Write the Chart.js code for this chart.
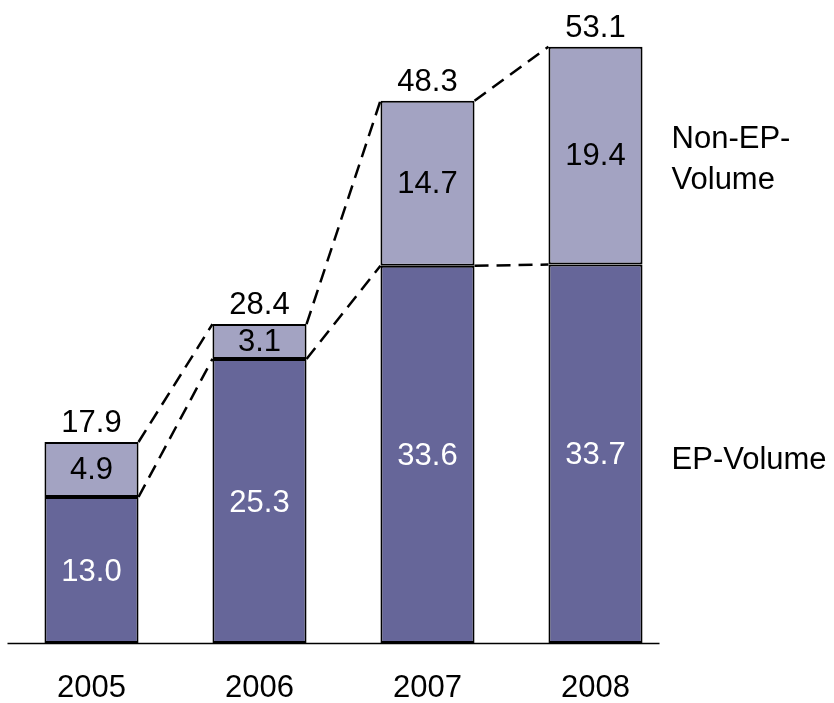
<!DOCTYPE html>
<html>
<head>
<meta charset="utf-8">
<script src="https://cdn.jsdelivr.net/npm/chart.js@4"></script>
<style>
  body { margin: 0; background: #fff; }
  #wrap { width: 834px; height: 703px; }
</style>
</head>
<body>
<div id="wrap"><canvas id="volChart"></canvas></div>
<script>
const years = ["2005", "2006", "2007", "2008"]
const epVolume = [13.0, 25.3, 33.6, 33.7]
const nonEpVolume = [4.9, 3.1, 14.7, 19.4]
const totals = [17.9, 28.4, 48.3, 53.1]
const seriesNames = ["EP-Volume", ["Non-EP-", "Volume"]]

const FONT = '31px "Liberation Sans", Arial, sans-serif'

// dashed connectors, value labels, axis line and series names on the right
const decorPlugin = {
    id: 'decor',
    afterDatasetsDraw(chart) {
        const ctx = chart.ctx
        const ep = chart.getDatasetMeta(0).data
        const non = chart.getDatasetMeta(1).data
        const area = chart.chartArea
        ctx.save()

        // baseline
        ctx.strokeStyle = '#000'
        ctx.lineWidth = 1.5
        ctx.beginPath()
        ctx.moveTo(area.left, area.bottom + 0.5)
        ctx.lineTo(area.right - 20, area.bottom + 0.5)
        ctx.stroke()

        // dashed connectors
        ctx.setLineDash([14, 8])
        ctx.lineWidth = 2.5
        for (let i = 0; i < ep.length - 1; i++) {
            [ep, non].forEach(set => {
                const a = set[i], b = set[i + 1]
                ctx.beginPath()
                ctx.moveTo(a.x + a.width / 2, a.y)
                ctx.lineTo(b.x - b.width / 2, b.y)
                ctx.stroke()
            })
        }
        ctx.setLineDash([])

        // value labels
        ctx.font = FONT
        ctx.textAlign = 'center'
        ctx.textBaseline = 'middle'
        ep.forEach((bar, i) => {
            ctx.fillStyle = '#fff'
            ctx.fillText(epVolume[i].toFixed(1), bar.x, (bar.y + bar.base) / 2 + 2)
            const top = non[i]
            ctx.fillStyle = '#000'
            ctx.fillText(nonEpVolume[i].toFixed(1), top.x, (top.y + top.base) / 2 + 1)
            ctx.textBaseline = 'alphabetic'
            ctx.fillText(totals[i].toFixed(1), top.x, top.y - 10)
            ctx.textBaseline = 'middle'
        })

        // series names next to last bar
        const lastEp = ep[ep.length - 1], lastNon = non[non.length - 1]
        const lx = lastEp.x + lastEp.width / 2 + 29
        ctx.textAlign = 'left'
        ctx.fillStyle = '#000'
        ctx.fillText(seriesNames[0], lx, (lastEp.y + lastEp.base) / 2 + 7)
        const midNon = (lastNon.y + lastNon.base) / 2 + 4.5
        ctx.fillText(seriesNames[1][0], lx, midNon - 20.5)
        ctx.fillText(seriesNames[1][1], lx, midNon + 20.5)
        ctx.restore()
    }
}

new Chart(document.getElementById('volChart'), {
    type: 'bar',
    data: {
        labels: years,
        datasets: [{
            label: 'EP-Volume',
            data: epVolume,
            backgroundColor: '#666699',
            borderColor: '#000',
            borderWidth: 2,
            borderSkipped: false
        }, {
            label: 'Non-EP-Volume',
            data: nonEpVolume,
            backgroundColor: '#A3A3C2',
            borderColor: '#000',
            borderWidth: 2,
            borderSkipped: false
        }]
    },
    options: {
        responsive: true,
        maintainAspectRatio: false,
        animation: false,
        layout: { padding: { left: 7.5, right: 154.5, top: 3, bottom: 0 } },
        categoryPercentage: 0.56,
        barPercentage: 1,
        plugins: { legend: { display: false }, tooltip: { enabled: false } },
        scales: {
            x: {
                stacked: true,
                grid: { display: false, drawTicks: false },
                border: { display: false },
                afterFit: scale => { scale.height = 60 },
                ticks: {
                    color: '#000',
                    padding: 30,
                    font: { family: '"Liberation Sans", Arial, sans-serif', size: 31, lineHeight: 1 }
                }
            },
            y: {
                stacked: true,
                display: false,
                min: 0,
                max: 57
            }
        }
    },
    plugins: [decorPlugin]
})
</script>
</body>
</html>
